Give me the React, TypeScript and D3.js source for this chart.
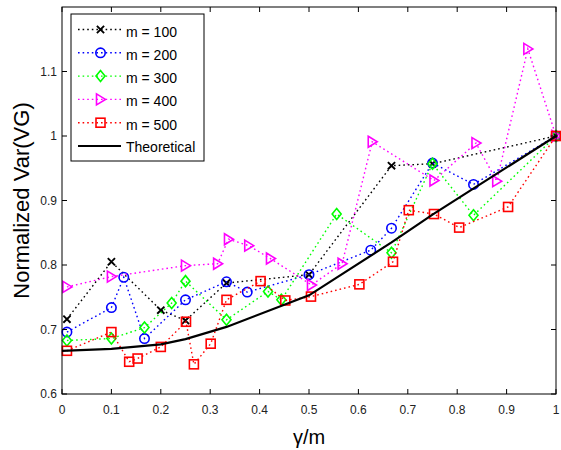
import React from "react";
import * as d3 from "d3";

const W = 561;
const H = 450;
const M = { left: 62, right: 5, top: 7, bottom: 56 };

// gamma/m positions and normalized Var(VG) values
const x100 = [0.01, 0.1, 0.2, 0.25, 0.333, 0.5, 0.667, 0.75, 1];
const y100 = [0.716, 0.805, 0.73, 0.714, 0.772, 0.785, 0.954, 0.957, 1.0];

const x200 = [0.01, 0.1, 0.125, 0.167, 0.25, 0.333, 0.375, 0.5, 0.625, 0.667, 0.75, 0.833, 1];
const y200 = [0.696, 0.734, 0.781, 0.686, 0.746, 0.774, 0.758, 0.785, 0.823, 0.857, 0.958, 0.925, 1.0];

const x300 = [0.01, 0.1, 0.167, 0.222, 0.25, 0.333, 0.417, 0.444, 0.556, 0.667, 0.75, 0.833, 1];
const y300 = [0.683, 0.686, 0.703, 0.741, 0.775, 0.715, 0.759, 0.746, 0.879, 0.819, 0.957, 0.877, 1.0];

const x400 = [0.01, 0.1, 0.25, 0.315, 0.337, 0.378, 0.422, 0.505, 0.567, 0.628, 0.753, 0.838, 0.88, 0.943, 1];
const y400 = [0.766, 0.782, 0.799, 0.802, 0.84, 0.83, 0.81, 0.769, 0.802, 0.991, 0.931, 0.989, 0.93, 1.135, 1.0];

const x500 = [0.01, 0.1, 0.136, 0.153, 0.2, 0.251, 0.267, 0.301, 0.333, 0.402, 0.452, 0.504, 0.602, 0.67, 0.702, 0.753, 0.804, 0.903, 1];
const y500 = [0.667, 0.696, 0.65, 0.655, 0.673, 0.712, 0.646, 0.678, 0.746, 0.775, 0.745, 0.751, 0.77, 0.805, 0.885, 0.879, 0.858, 0.89, 1.0];

const xTheory = [0, 0.1, 0.2, 0.25, 0.333, 0.5, 0.667, 0.75, 1];
const yTheory = [0.667, 0.67, 0.677, 0.685, 0.704, 0.753, 0.835, 0.878, 1.0];

const xTicks = [0, 0.1, 0.2, 0.3, 0.4, 0.5, 0.6, 0.7, 0.8, 0.9, 1];
const yTicks = [0.6, 0.7, 0.8, 0.9, 1, 1.1];

const series = [
  { name: "m = 100", xs: x100, ys: y100, color: "#000000", marker: "x" },
  { name: "m = 200", xs: x200, ys: y200, color: "#0000ff", marker: "o" },
  { name: "m = 300", xs: x300, ys: y300, color: "#00ff00", marker: "d" },
  { name: "m = 400", xs: x400, ys: y400, color: "#ff00ff", marker: ">" },
  { name: "m = 500", xs: x500, ys: y500, color: "#ff0000", marker: "s" },
];

const FONT = "'Liberation Sans', Arial, sans-serif";

const Marker = ({ type, x, y, color }: { type: string; x: number; y: number; color: string }) => {
  const sw = 1.6;
  if (type === "x") {
    const s = 3.6;
    return (
      <path
        d={`M${x - s},${y - s}L${x + s},${y + s}M${x - s},${y + s}L${x + s},${y - s}`}
        stroke={color}
        strokeWidth={sw + 0.3}
        fill="none"
      />
    );
  }
  if (type === "o") return <circle cx={x} cy={y} r={4.7} stroke={color} strokeWidth={sw} fill="none" />;
  if (type === "s")
    return <rect x={x - 4.5} y={y - 4.5} width={9} height={9} stroke={color} strokeWidth={sw} fill="none" />;
  if (type === "d")
    return (
      <path d={`M${x},${y - 5.5}L${x + 4.5},${y}L${x},${y + 5.5}L${x - 4.5},${y}Z`} stroke={color} strokeWidth={sw} fill="none" />
    );
  return (
    <path d={`M${x - 4},${y - 5.5}L${x + 5},${y}L${x - 4},${y + 5.5}Z`} stroke={color} strokeWidth={sw} fill="none" />
  );
};

export default function App() {
  const x = d3.scaleLinear().domain([0, 1]).range([M.left, W - M.right]);
  const y = d3.scaleLinear().domain([0.6, 1.2]).range([H - M.bottom, M.top]);
  const line = d3
    .line<[number, number]>()
    .x((d) => x(d[0]))
    .y((d) => y(d[1]));

  const x0 = M.left;
  const x1 = W - M.right;
  const y0 = H - M.bottom;
  const y1 = M.top;
  const tl = 5;

  const legX = 71;
  const legY = 14;
  const rowH = 23.3;

  return (
    <svg width={W} height={H} style={{ position: "absolute", left: 0, top: 0, background: "#fff" }} fontFamily={FONT}>
      <rect x={0} y={0} width={W} height={H} fill="#fff" />

      {series.map((s) => (
        <g key={s.name}>
          <path
            d={line(s.xs.map((v, i) => [v, s.ys[i]]) as [number, number][]) || ""}
            fill="none"
            stroke={s.color}
            strokeWidth={1.4}
            strokeDasharray="1.6 3"
          />
          {s.xs.map((v, i) => (
            <Marker key={i} type={s.marker} x={x(v)} y={y(s.ys[i])} color={s.color} />
          ))}
        </g>
      ))}
      <path
        d={line(xTheory.map((v, i) => [v, yTheory[i]]) as [number, number][]) || ""}
        fill="none"
        stroke="#000"
        strokeWidth={2.2}
      />

      {/* frame and inward ticks */}
      <rect x={x0} y={y1} width={x1 - x0} height={y0 - y1} fill="none" stroke="#000" strokeWidth={1} />
      {xTicks.map((t) => (
        <g key={"x" + t}>
          <line x1={x(t)} x2={x(t)} y1={y0} y2={y0 - tl} stroke="#000" />
          <line x1={x(t)} x2={x(t)} y1={y1} y2={y1 + tl} stroke="#000" />
          <text x={x(t)} y={y0 + 20} textAnchor="middle" fontSize={12} fill="#222">
            {d3.format("~g")(t)}
          </text>
        </g>
      ))}
      {yTicks.map((t) => (
        <g key={"y" + t}>
          <line x1={x0} x2={x0 + tl} y1={y(t)} y2={y(t)} stroke="#000" />
          <line x1={x1} x2={x1 - tl} y1={y(t)} y2={y(t)} stroke="#000" />
          <text x={x0 - 5} y={y(t) + 4} textAnchor="end" fontSize={12} fill="#222">
            {d3.format("~g")(t)}
          </text>
        </g>
      ))}

      <text x={(x0 + x1) / 2} y={444} textAnchor="middle" fontSize={20} fill="#000">
        γ/m
      </text>
      <text
        transform={`translate(29, ${(y0 + y1) / 2}) rotate(-90)`}
        textAnchor="middle"
        fontSize={22}
        fill="#000"
      >
        Normalized Var(VG)
      </text>

      {/* legend */}
      <g>
        <rect x={legX} y={legY} width={133} height={147} fill="#fff" stroke="#000" strokeWidth={1} />
        {series.map((s, i) => {
          const cy = legY + 15.5 + i * rowH;
          return (
            <g key={s.name}>
              <line
                x1={legX + 7}
                x2={legX + 50}
                y1={cy}
                y2={cy}
                stroke={s.color}
                strokeWidth={1.4}
                strokeDasharray="1.6 3"
              />
              <Marker type={s.marker} x={legX + 29.5} y={cy} color={s.color} />
              <text x={legX + 55} y={cy + 7} fontSize={14} fill="#000">
                {s.name}
              </text>
            </g>
          );
        })}
        <line
          x1={legX + 7}
          x2={legX + 50}
          y1={legY + 15.5 + 5 * rowH}
          y2={legY + 15.5 + 5 * rowH}
          stroke="#000"
          strokeWidth={2.2}
        />
        <text x={legX + 55} y={legY + 15.5 + 5 * rowH + 6} fontSize={14} fill="#000">
          Theoretical
        </text>
      </g>
    </svg>
  );
}
